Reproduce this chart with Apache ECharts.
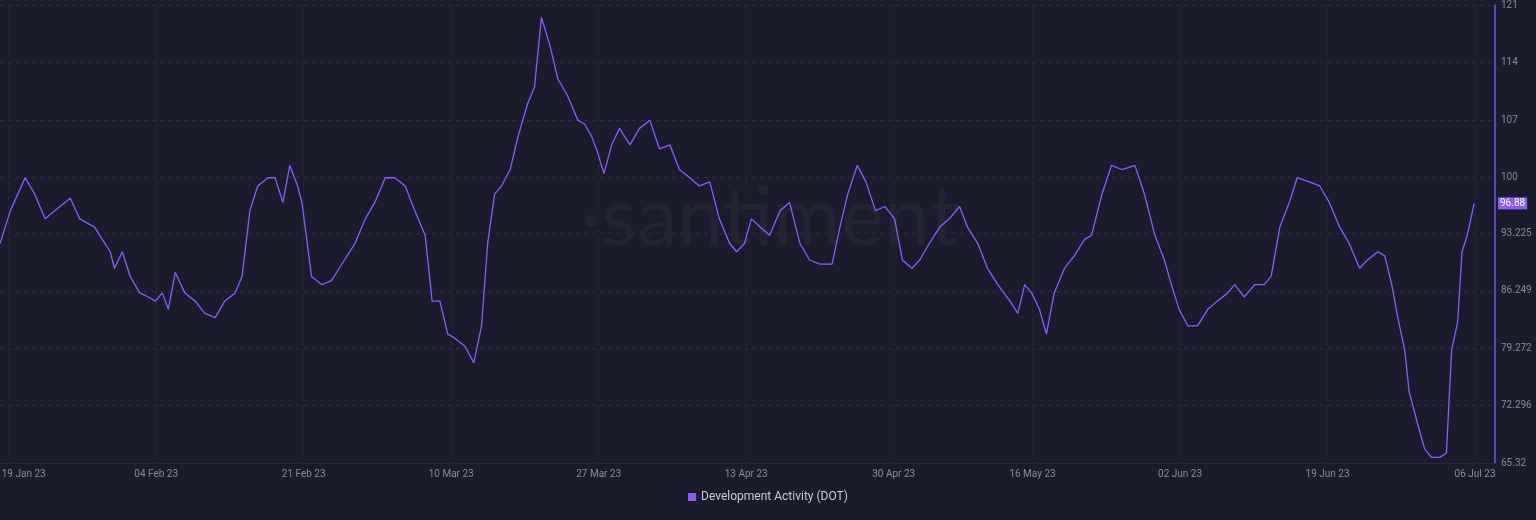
<!DOCTYPE html>
<html>
<head>
<meta charset="utf-8">
<script src="https://cdn.jsdelivr.net/npm/echarts@6/dist/echarts.min.js"></script>
<style>
  html, body { margin: 0; padding: 0; background: #1b1c2b; }
  #chart { width: 1536px; height: 520px; }
</style>
</head>
<body>
<div id="chart"></div>
<script>
// day offsets from 18 Jan 2023
var days = [0,1.2,2.9,4.0,5.2,6.3,8.1,9.2,10.9,11.5,12.7,13.2,14.1,15.0,16.1,17.1,
  17.9,18.7,19.4,20.2,21.3,22.5,23.6,24.8,25.9,27.1,27.9,28.8,29.7,30.9,31.7,32.6,33.4,34.3,
  34.8,35.9,37.1,38.2,39.7,40.9,42.1,43.2,44.4,45.5,46.7,47.8,49.0,49.8,50.7,
  51.6,52.4,53.6,54.6,55.5,56.2,57.0,57.8,58.8,59.7,60.8,61.6,62.4,63.4,64.3,65.4,66.6,67.4,68.2,
  68.9,69.6,70.5,71.4,72.6,73.7,74.9,76.0,77.2,78.3,79.5,80.6,81.8,82.9,84.1,84.9,
  85.8,86.6,87.6,88.7,89.9,91.0,92.2,93.3,94.5,95.9,96.8,97.7,98.8,99.8,100.9,102.0,
  103.1,104.0,105.1,106.0,107.1,108.3,109.4,110.6,111.5,112.7,113.8,115.0,116.4,117.3,118.1,118.9,
  119.8,120.6,121.5,122.7,123.8,125.0,125.8,127.0,128.1,129.3,130.8,131.9,133.1,134.2,135.0,135.9,
  136.9,138.0,139.2,140.3,141.5,142.3,143.4,144.6,145.7,146.5,147.5,148.6,149.5,150.9,152.1,153.2,
  154.4,155.5,156.7,157.6,158.8,159.6,160.4,161.1,161.9,162.4,163.4,164.2,165.0,165.9,166.7,167.3,168.0,168.5,169.1,169.9];

var activity = [92,96,100,98,95,96,97.5,95,94,93,91,89,91,88,86,85.5,
  85,86,84,88.5,86,85,83.5,83,85,86,88,96,99,100,100,97,101.5,99,
  97,88,87,87.5,90,92,95,97,100,100,99,96,93,85,85,
  81,80.5,79.5,77.5,82,92,98,99,101,105,109,111,119.5,116,112,110,107,106.5,105,
  103,100.5,104,106,104,106,107,103.5,104,101,100,99,99.5,95,92,91,
  92,95,94,93,96,97,92,90,89.5,89.5,94,98,101.5,99.5,96,96.5,
  95,90,89,90,92,94,95,96.5,94,92,89,87,85,83.5,87,86,
  84,81,86,89,90.5,92.5,93,98,101.5,101,101.5,98,93,90,87,84,
  82,82,84,85,86,87,85.5,87,87,88,94,97,100,99.5,99,97,
  94,92,89,90,91,90.5,87,83,79,74,70,67,66,66,66.5,79,82.5,91,93,96.88];

var dateTicks = [1,18,35,52,69,86,103,119,136,153,170];
var dateLabels = ['19 Jan 23','04 Feb 23','21 Feb 23','10 Mar 23','27 Mar 23','13 Apr 23',
  '30 Apr 23','16 May 23','02 Jun 23','19 Jun 23','06 Jul 23'];
var valueTicks = [65.32,72.296,79.272,86.249,93.225,100,107,114,121];
var lastValue = 96.88;

var points = days.map(function(d, i){ return [d, activity[i]]; });

var chart = echarts.init(document.getElementById('chart'));
chart.setOption({
    backgroundColor: '#1b1c2b',
    animation: false,
    textStyle: { fontFamily: 'Roboto, sans-serif' },
    graphic: [{
        type: 'text', left: 580, top: 178,
        style: { text: '\u00b7santiment', fontSize: 82, fill: 'rgba(255,255,255,0.035)', fontFamily: 'Lato, sans-serif' }
    }],
    grid: { left: 0, right: 41, top: 5, bottom: 57, outerBoundsMode: 'none', containLabel: false },
    legend: {
        bottom: 12, left: 'center',
        icon: 'rect', itemWidth: 8, itemHeight: 8,
        textStyle: { color: '#c8cad6', fontSize: 12 },
        data: ['Development Activity (DOT)']
    },
    xAxis: {
        type: 'value', min: 0, max: 172.3,
        axisLine: { show: true, onZero: false, lineStyle: { color: '#262839' } },
        axisTick: { show: false, customValues: dateTicks },
        axisLabel: {
            color: '#868aa0', fontSize: 10, customValues: dateTicks, margin: 6,
            formatter: function(v){
                var i = dateTicks.indexOf(v);
                return i === 0 ? '{first|' + dateLabels[i] + '}' : (dateLabels[i] || '');
            },
            rich: { first: { color: '#868aa0', fontSize: 10, padding: [0, 0, 0, 30] } }
        },
        splitLine: { show: true, lineStyle: { color: '#25273a', type: [4, 4] } }
    },
    yAxis: {
        type: 'value', position: 'right', min: 65.32, max: 121,
        axisLine: { show: true, onZero: false, lineStyle: { color: '#7553e0', width: 1.5 } },
        axisTick: { show: false, customValues: valueTicks },
        axisLabel: { color: '#868aa0', fontSize: 10, customValues: valueTicks, margin: 6,
            formatter: function(v){ return String(v); } },
        splitLine: { show: true, lineStyle: { color: '#2a2c40', type: [4, 4] } }
    },
    series: [{
        name: 'Development Activity (DOT)',
        type: 'line',
        data: points,
        showSymbol: false,
        smooth: false,
        clip: false,
        itemStyle: { color: '#8a5cff' },
        lineStyle: { color: '#8a5cff', width: 1.3 },
        markLine: {
            symbol: 'none', silent: true,
            lineStyle: { color: 'rgba(0,0,0,0)', width: 1 },
            label: {
                show: true, position: 'end', distance: 3, formatter: String(lastValue),
                color: '#ffffff', backgroundColor: '#8a5cff', fontSize: 10,
                padding: [1, 2]
            },
            data: [{ yAxis: lastValue }]
        }
    }]
});
</script>
</body>
</html>
